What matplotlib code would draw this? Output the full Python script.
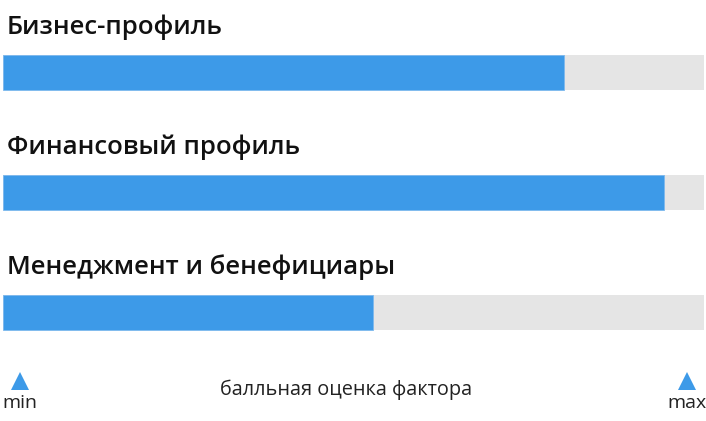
import matplotlib
matplotlib.use("Agg")
import matplotlib.pyplot as plt

# Data
categories = ["Бизнес-профиль", "Финансовый профиль", "Менеджмент и бенефициары"]
scores = [0.80, 0.943, 0.528]
max_score = 1.0
axis_label = "балльная оценка фактора"
min_label = "min"
max_label = "max"

W, H = 706, 421
DPI = 100
BLUE = "#3d9ae8"
GRAY = "#e5e5e5"

fig = plt.figure(figsize=(W / DPI, H / DPI), dpi=DPI)
fig.patch.set_facecolor("white")

# axes: x spans track pixels 3..704, y in pixel units (top = 0)
x0, x1 = 3, 704
ax = fig.add_axes([x0 / W, 0, (x1 - x0) / W, 1])
ax.set_xlim(0, max_score)
ax.set_ylim(H, 0)
ax.axis("off")

bar_tops = [55, 175, 295]
bar_h = 35
title_base = [33.5, 153.5, 274]
for cat, val, top, tb in zip(categories, scores, bar_tops, title_base):
    yc = top + bar_h / 2
    ax.barh(yc, max_score, height=bar_h, left=0, color=GRAY, edgecolor="none")
    ax.barh(yc, val, height=bar_h, left=0, color=BLUE, edgecolor="#7db9ee", linewidth=0.6)
    fig.text(7 / W, 1 - tb / H, cat, fontsize=18.5, family=["Open Sans", "DejaVu Sans"],
             fontweight=600, va="baseline", ha="left", color="#111111")

# min / max markers
ax.plot([(20 - x0) / (x1 - x0) * max_score], [381], marker="^", markersize=13,
        color=BLUE, markeredgewidth=0, clip_on=False)
ax.plot([(687 - x0) / (x1 - x0) * max_score], [381], marker="^", markersize=13,
        color=BLUE, markeredgewidth=0, clip_on=False)
fig.text(20 / W, 1 - 408.5 / H, min_label, fontsize=14, family=["Open Sans", "DejaVu Sans"],
         ha="center", va="baseline", color="#222222")
fig.text(687 / W, 1 - 408.5 / H, max_label, fontsize=14, family=["Open Sans", "DejaVu Sans"],
         ha="center", va="baseline", color="#222222")
fig.text(346 / W, 1 - 395 / H, axis_label, fontsize=14.3, family=["Open Sans", "DejaVu Sans"],
         ha="center", va="baseline", color="#222222")

fig.savefig("out.png", dpi=DPI, facecolor="white")
